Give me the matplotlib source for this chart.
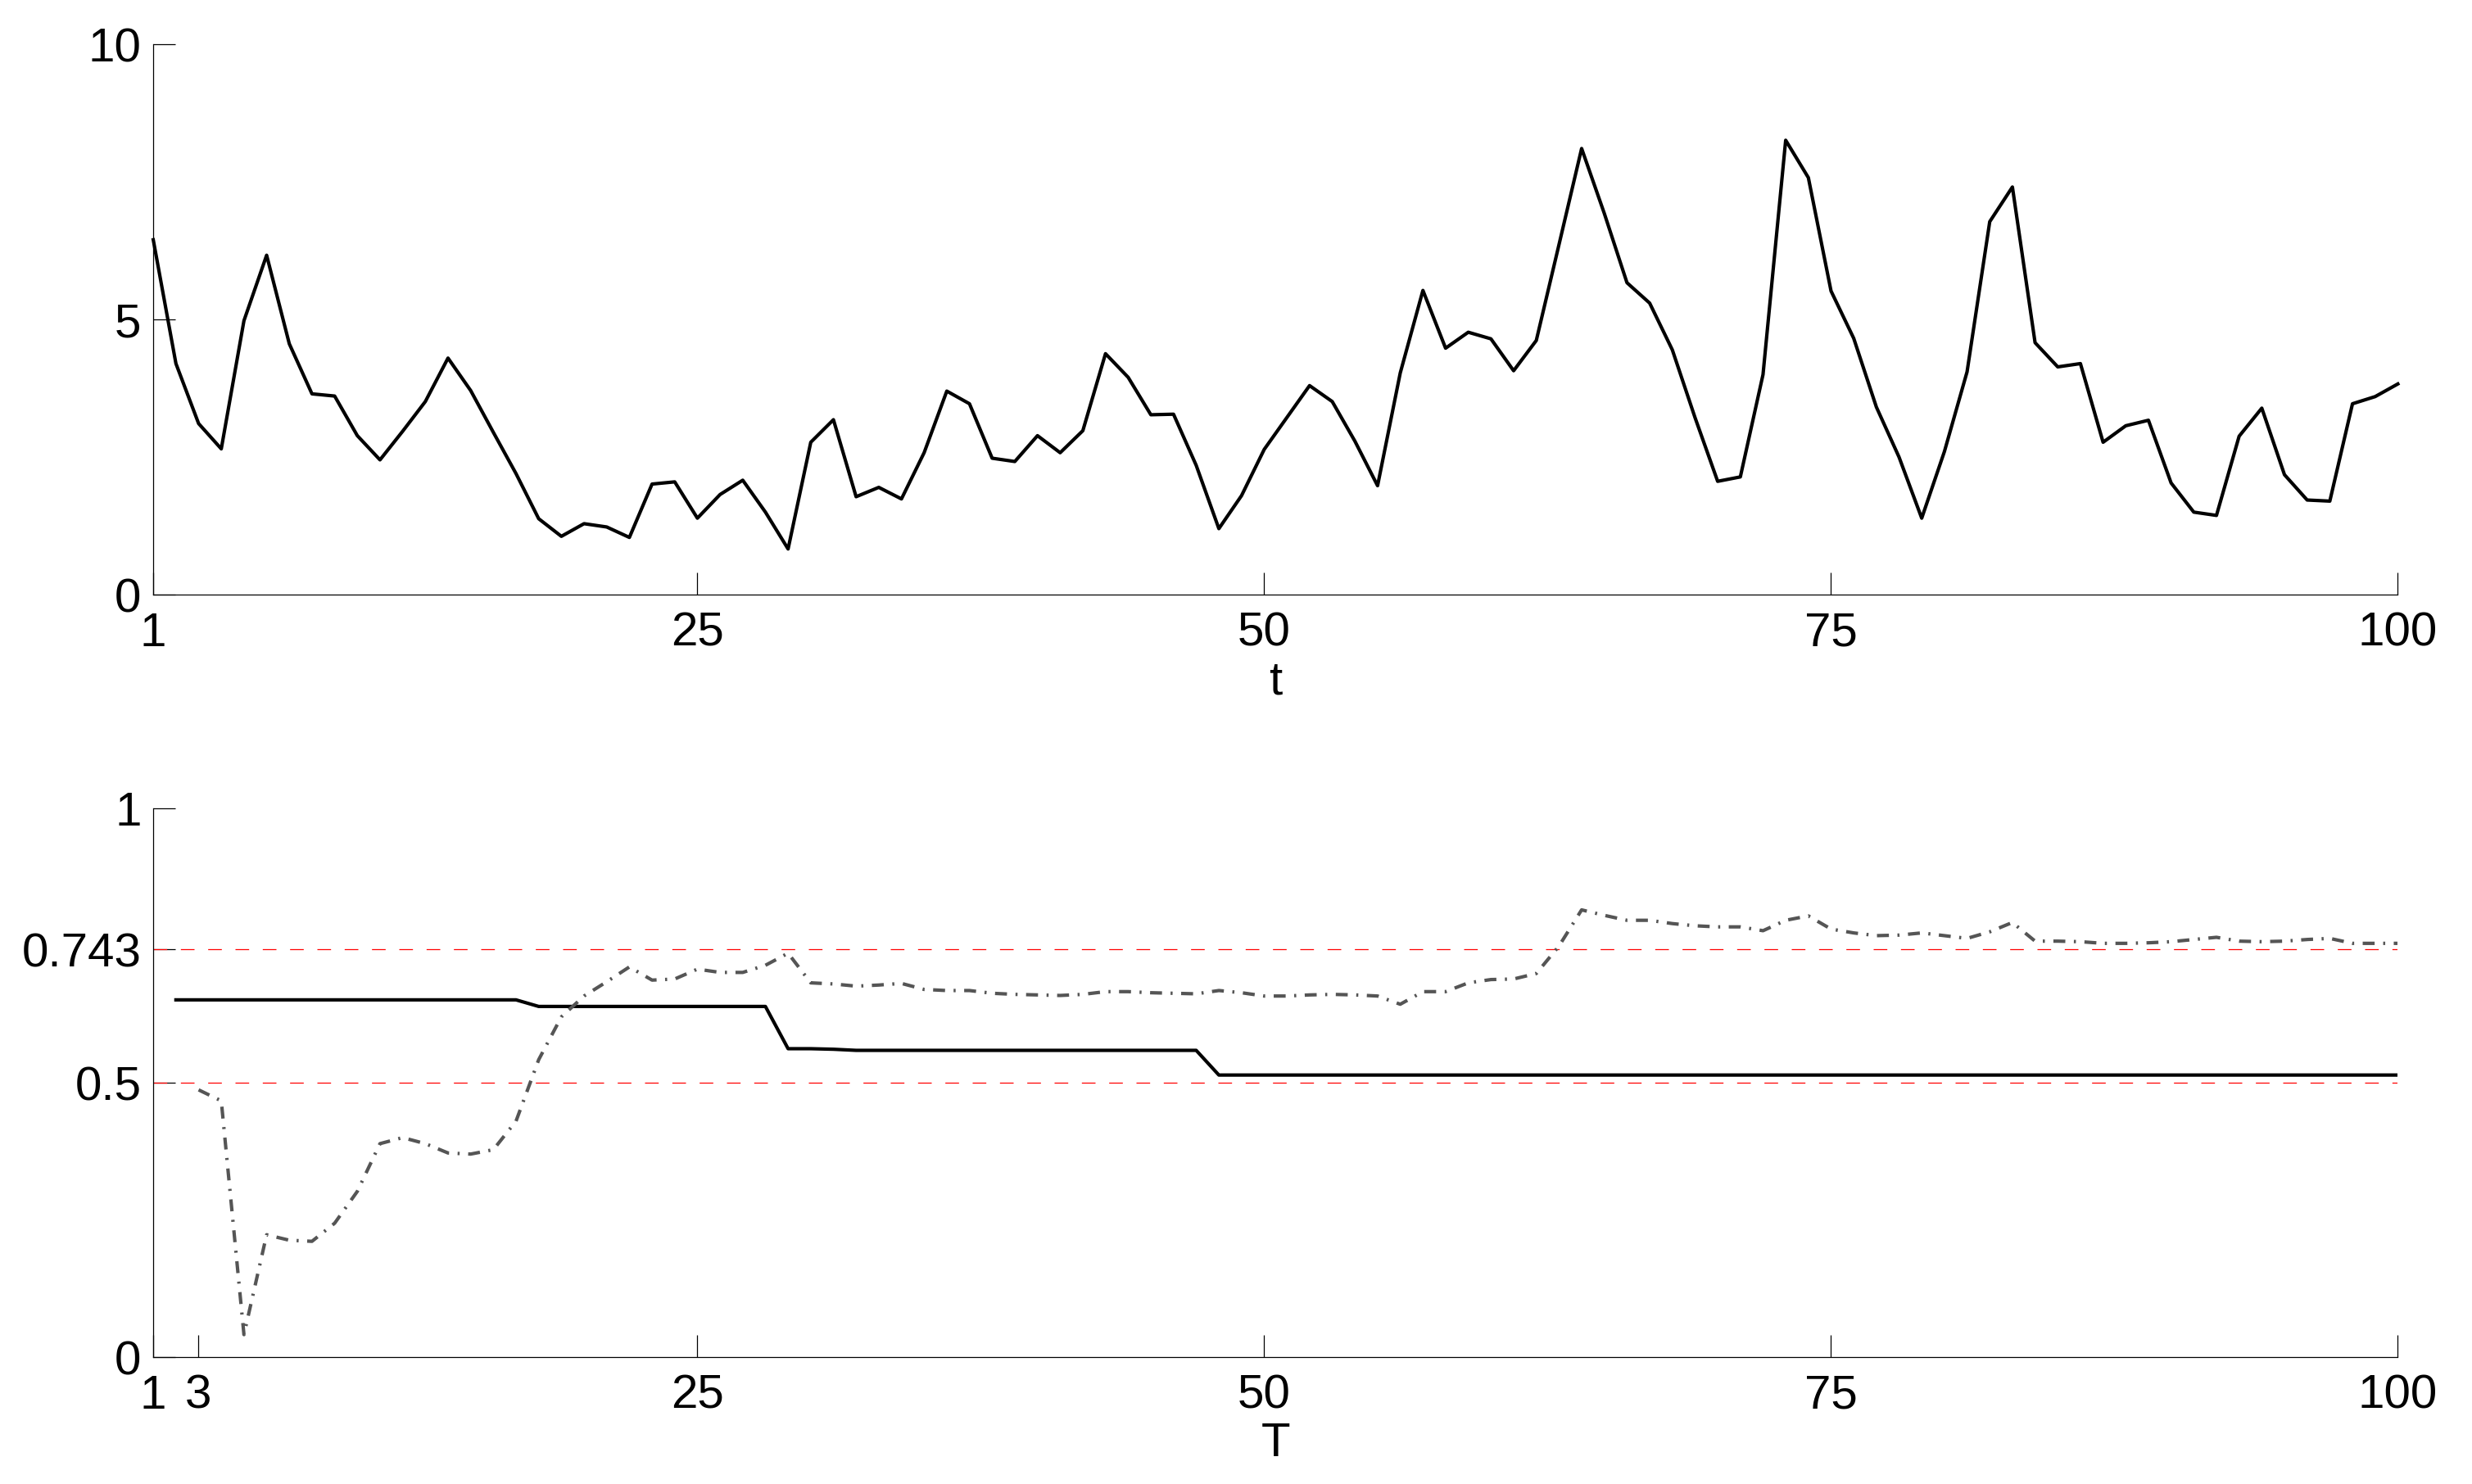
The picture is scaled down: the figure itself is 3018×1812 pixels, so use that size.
import matplotlib
matplotlib.use('Agg')
import matplotlib.pyplot as plt
import numpy as np

plt.rcParams['font.family'] = ['Liberation Sans', 'DejaVu Sans']
plt.rcParams['lines.scale_dashes'] = False

# %% Data
t = list(range(1, 101))
series_t = [
    6.45, 4.20, 3.11, 2.65, 4.98, 6.17, 4.56, 3.65, 3.61, 2.89,
    2.45, 2.97, 3.51, 4.30, 3.71, 2.95, 2.20, 1.38, 1.06, 1.29,
    1.23, 1.04, 2.01, 2.05, 1.39, 1.82, 2.08, 1.50, 0.83, 2.77,
    3.18, 1.78, 1.95, 1.74, 2.58, 3.70, 3.47, 2.48, 2.42, 2.89,
    2.58, 2.98, 4.38, 3.95, 3.27, 3.28, 2.35, 1.20, 1.80, 2.64,
    3.22, 3.80, 3.51, 2.79, 1.98, 4.03, 5.53, 4.48, 4.77, 4.65,
    4.07, 4.62, 6.36, 8.11, 6.93, 5.67, 5.30, 4.45, 3.22, 2.06,
    2.14, 4.00, 8.26, 7.58, 5.52, 4.66, 3.41, 2.50, 1.39, 2.60,
    4.05, 6.78, 7.41, 4.58, 4.14, 4.20, 2.77, 3.07, 3.17, 2.03,
    1.50, 1.44, 2.88, 3.39, 2.18, 1.72, 1.70, 3.47, 3.60, 3.83,
]

T_solid = list(range(2, 101))
solid = [
    0.651, 0.651, 0.651, 0.651, 0.651, 0.651, 0.651, 0.651, 0.651, 0.651,
    0.651, 0.651, 0.651, 0.651, 0.651, 0.651, 0.639, 0.639, 0.639, 0.639,
    0.639, 0.639, 0.639, 0.639, 0.639, 0.639, 0.639, 0.562, 0.562, 0.561,
    0.559, 0.559, 0.559, 0.559, 0.559, 0.559, 0.559, 0.559, 0.559, 0.559,
    0.559, 0.559, 0.559, 0.559, 0.559, 0.559, 0.514, 0.514, 0.514, 0.514,
    0.514, 0.514, 0.514, 0.514, 0.514, 0.514, 0.514, 0.514, 0.514, 0.514,
    0.514, 0.514, 0.514, 0.514, 0.514, 0.514, 0.514, 0.514, 0.514, 0.514,
    0.514, 0.514, 0.514, 0.514, 0.514, 0.514, 0.514, 0.514, 0.514, 0.514,
    0.514, 0.514, 0.514, 0.514, 0.514, 0.514, 0.514, 0.514, 0.514, 0.514,
    0.514, 0.514, 0.514, 0.514, 0.514, 0.514, 0.514, 0.514, 0.514,
]

T_dash = list(range(3, 101))
dashdot = [
    0.487, 0.467, 0.041, 0.223, 0.213, 0.211, 0.244, 0.302, 0.389, 0.400,
    0.389, 0.372, 0.370, 0.378, 0.430, 0.542, 0.620, 0.658, 0.684, 0.711,
    0.687, 0.689, 0.707, 0.701, 0.701, 0.714, 0.736, 0.682, 0.680, 0.676,
    0.678, 0.681, 0.670, 0.668, 0.668, 0.663, 0.661, 0.660, 0.659, 0.661,
    0.666, 0.666, 0.664, 0.663, 0.662, 0.668, 0.664, 0.658, 0.658, 0.660,
    0.661, 0.660, 0.658, 0.643, 0.666, 0.666, 0.682, 0.688, 0.689, 0.699,
    0.749, 0.815, 0.805, 0.796, 0.796, 0.790, 0.786, 0.784, 0.784, 0.777,
    0.796, 0.804, 0.780, 0.773, 0.768, 0.769, 0.773, 0.768, 0.763, 0.775,
    0.792, 0.758, 0.758, 0.757, 0.754, 0.754, 0.755, 0.757, 0.761, 0.765,
    0.758, 0.757, 0.758, 0.761, 0.763, 0.754, 0.754, 0.754,
]

ref_levels = [0.5, 0.743]
top_xticks = [1, 25, 50, 75, 100]
bot_xticks = [1, 3, 25, 50, 75, 100]
top_yticks = [0, 5, 10]
bot_yticks = [0, 0.5, 0.743, 1]
bot_yticklabels = ['0', '0.5', '0.743', '1']

# %% Figure
fig = plt.figure(figsize=(3018 / 300, 1812 / 300), dpi=300)
ax1 = fig.add_axes([0.062, 0.5993, 0.908, 0.3707])
ax2 = fig.add_axes([0.062, 0.0855, 0.908, 0.3698])

FS = 14


def style(ax):
    for side in ('top', 'right'):
        ax.spines[side].set_visible(False)
    for side in ('left', 'bottom'):
        ax.spines[side].set_linewidth(0.3)
    ax.tick_params(direction='in', length=6.5, width=0.3, labelsize=FS,
                   top=False, right=False)
    ax.tick_params(axis='x', pad=5)
    ax.tick_params(axis='y', pad=3.5)


# top panel
ax1.plot(t, series_t, color='black', linewidth=1.0, clip_on=False)
ax1.set_xlim(1, 100)
ax1.set_ylim(0, 10)
ax1.set_xticks(top_xticks)
ax1.set_yticks(top_yticks)
ax1.set_xlabel('t', fontsize=FS, labelpad=1)
style(ax1)

# bottom panel
for lvl in ref_levels:
    ax2.axhline(lvl, color='red', linewidth=0.3, linestyle=(0, (4, 4)))
ax2.plot(T_solid, solid, color='black', linewidth=1.0)
ax2.plot(T_dash, dashdot, color='#555555', linewidth=1.0,
         linestyle=(0, (3.5, 2.5, 0.6, 2.5)))
ax2.set_xlim(1, 100)
ax2.set_ylim(0, 1)
ax2.set_xticks(bot_xticks)
ax2.set_yticks(bot_yticks)
ax2.set_yticklabels(bot_yticklabels)
ax2.set_xlabel('T', fontsize=FS, labelpad=1)
style(ax2)

fig.savefig('out.png', dpi=300, facecolor='white')
